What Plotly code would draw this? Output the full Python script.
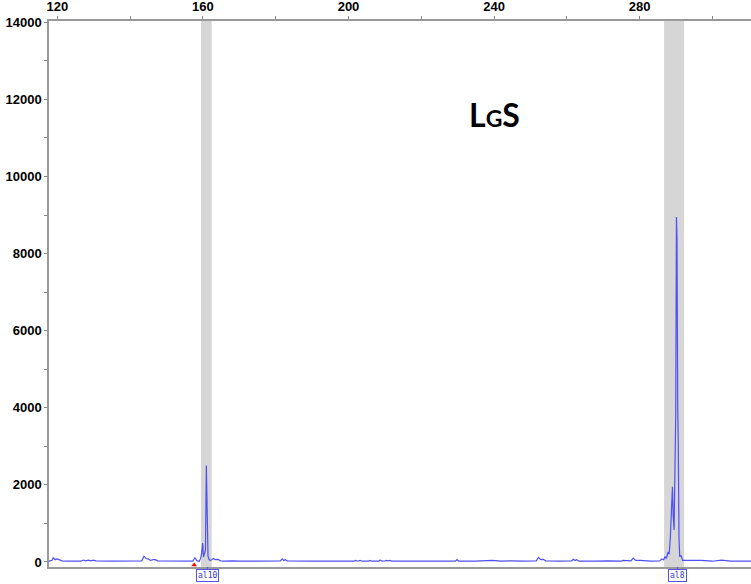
import plotly.graph_objects as go

# Fragment size (bp) and signal (RFU)
size_bp = [117.7, 118.5, 118.9, 119.4, 120.0, 120.7, 121.3, 122.5, 126.5, 127.2,
           127.8, 128.5, 129.2, 129.9, 130.6, 135.0, 140.0, 143.2, 143.8, 144.4,
           145.0, 145.6, 146.3, 146.9, 147.6, 152.0, 157.2, 157.8, 158.4, 159.0,
           159.4, 159.7, 159.95, 160.15, 160.35, 160.7, 160.95, 161.05, 161.15, 161.4,
           161.7, 162.0, 162.4, 162.9, 163.4, 164.2, 164.8, 166.0, 168.2, 170.0,
           175.0, 181.3, 181.8, 182.2, 182.6, 183.2, 190.0, 201.5, 201.9, 202.5,
           203.2, 203.8, 205.5, 205.9, 206.4, 208.3, 208.7, 209.2, 210.1, 210.5,
           211.0, 211.4, 211.9, 215.0, 219.6, 222.0, 229.4, 229.8, 230.3, 235.0,
           239.4, 242.0, 244.9, 248.0, 251.6, 252.2, 252.8, 253.5, 254.2, 258.0,
           261.3, 261.8, 262.3, 262.7, 263.3, 268.0, 271.3, 274.9, 275.4, 277.6,
           278.2, 278.9, 280.1, 283.0, 285.5, 286.1, 286.6, 287.0, 287.3, 287.8,
           288.1, 288.4, 288.8, 289.0, 289.2, 289.45, 289.7, 289.9, 290.1, 290.25,
           290.45, 290.6, 290.8, 291.0, 291.4, 291.8, 293.6, 296.9, 300.0, 302.4,
           305.0, 310.6]
rfu = [20, 40, 110, 60, 80, 60, 30, 20, 20, 50,
       30, 50, 30, 50, 30, 20, 20, 30, 150, 90,
       80, 40, 60, 60, 30, 20, 20, 110, 30, 20,
       100, 260, 490, 130, 200, 300, 2500, 1800, 2200, 150,
       60, 40, 60, 90, 60, 70, 30, 20, 30, 20,
       20, 30, 80, 40, 60, 30, 20, 20, 40, 20,
       40, 20, 20, 40, 20, 20, 50, 20, 30, 40,
       30, 40, 20, 20, 30, 20, 20, 60, 20, 20,
       40, 20, 30, 20, 30, 120, 60, 70, 30, 20,
       30, 70, 40, 60, 20, 20, 30, 20, 40, 30,
       100, 40, 40, 20, 30, 80, 60, 140, 90, 260,
       200, 600, 1900, 1950, 1200, 830, 2500, 3800, 8950, 8400,
       4000, 3100, 600, 150, 160, 40, 40, 40, 20, 50,
       20, 20]

# Allele bins (bp)
bin_start = [159.48, 286.7]
bin_end = [162.42, 292.2]
allele_labels = ["al10", "al8"]
allele_pos = [161.3, 290.4]

x_ticks = [120, 140, 160, 180, 200, 220, 240, 260, 280, 300]
x_ticktext = ["120", "", "160", "", "200", "", "240", "", "280", ""]
y_ticks = list(range(0, 15000, 1000))
y_ticktext = [str(v) if v % 2000 == 0 else "" for v in y_ticks]

red_mark_x = [157.6]
red_mark_y = [-75]

fig = go.Figure()
fig.add_trace(go.Scatter(x=size_bp, y=rfu, mode="lines",
                         line=dict(color="#4f4ff5", width=1.2),
                         hoverinfo="skip", showlegend=False))
fig.add_trace(go.Scatter(x=red_mark_x, y=red_mark_y, mode="markers",
                         marker=dict(symbol="triangle-up", color="red", size=5),
                         cliponaxis=False, showlegend=False, hoverinfo="skip"))

for s, e in zip(bin_start, bin_end):
    fig.add_shape(type="rect", xref="x", yref="paper", x0=s, x1=e, y0=0, y1=1,
                  fillcolor="#d6d6d6", line=dict(width=0), layer="below")

for lab, pos in zip(allele_labels, allele_pos):
    fig.add_annotation(x=pos, xref="x", y=0, yref="paper", yanchor="top",
                       text=lab, showarrow=False, yshift=-2,
                       font=dict(family="DejaVu Sans Mono", size=8, color="#3333cc"),
                       bordercolor="#5555ee", borderwidth=1, borderpad=1,
                       bgcolor="white")
    fig.add_shape(type="line", xref="x", yref="paper", x0=pos, x1=pos,
                  y0=0, y1=-0.006, line=dict(color="#5555ee", width=1))

fig.add_annotation(x=240.2, y=11607, xref="x", yref="y",
                   text="L<span style='font-size:23px'>G</span>S", showarrow=False,
                   font=dict(family="Lato", size=32, color="black", weight="bold"))

fig.update_layout(
    width=751, height=584,
    margin=dict(l=49, r=0, t=21, b=17),
    paper_bgcolor="white", plot_bgcolor="white",
    xaxis=dict(range=[117.72, 310.58], side="top", tickvals=x_ticks,
               ticktext=x_ticktext, ticks="outside", ticklen=3,
               tickcolor="#888", showline=True, linecolor="#999",
               linewidth=1.5, mirror=True, showgrid=False, zeroline=False,
               tickfont=dict(family="Liberation Sans", size=13, color="black",
                             weight="bold")),
    yaxis=dict(range=[-130, 14034], tickvals=y_ticks, ticktext=y_ticktext,
               ticks="outside", ticklen=3, tickcolor="#888", showline=True,
               linecolor="#999", linewidth=1.5, showgrid=False, zeroline=False,
               tickfont=dict(family="Liberation Sans", size=13, color="black",
                             weight="bold")),
)

fig.write_html("out.html")
